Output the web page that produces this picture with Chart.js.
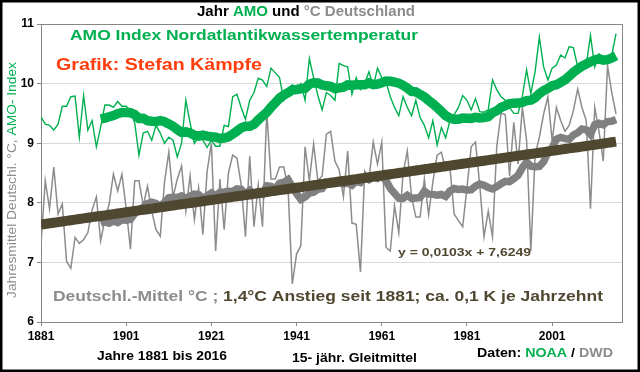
<!DOCTYPE html>
<html>
<head>
<meta charset="utf-8">
<script src="https://cdn.jsdelivr.net/npm/chart.js@4.4.0/dist/chart.umd.min.js"></script>
<style>
  html, body { margin: 0; padding: 0; background: #fff; }
  #wrap { width: 640px; height: 372px; position: relative; }
</style>
</head>
<body>
<div id="wrap"><canvas id="chart"></canvas></div>
<script>
// Jahre 1881..2016
const firstYear = 1881;
const lastYear = 2016;
const tickYears = [1881, 1901, 1921, 1941, 1961, 1981, 2001];
const yTicks = [6, 7, 8, 9, 10, 11];

// AMO Index (auf °C-Skala)
const amo = [
  9.44, 9.32, 9.30, 9.22, 9.32, 9.62, 9.62, 9.78, 9.79, 9.10,
  9.80, 9.22, 9.38, 8.94, 9.27, 9.64, 9.64, 9.60, 9.70, 9.62,
  9.62, 9.55, 9.34, 8.80, 9.17, 9.20, 9.05, 9.30, 9.17, 9.00,
  9.10, 9.05, 8.77, 9.00, 9.72, 9.34, 9.00, 9.10, 9.05, 8.93,
  9.05, 8.95, 8.95, 9.30, 9.28, 9.78, 9.82, 9.60, 9.40, 9.72,
  9.85, 10.09, 10.06, 9.95, 10.26, 10.18, 10.10, 9.72, 9.90, 9.98,
  9.90, 10.00, 9.72, 10.42, 10.10, 9.80, 9.56, 9.85, 9.80, 9.72,
  10.34, 10.30, 10.28, 9.82, 10.10, 9.90, 10.00, 10.20, 9.95, 10.26,
  10.10, 10.03, 9.78, 9.60, 9.46, 9.78, 9.60, 9.46, 9.72, 9.43,
  9.30, 9.09, 9.38, 8.97, 9.26, 9.09, 9.38, 9.48, 9.60, 9.80,
  9.72, 9.56, 9.75, 9.53, 9.52, 9.56, 10.06, 9.90, 9.78, 9.72,
  9.60, 9.50, 9.50, 9.78, 10.23, 9.83, 10.20, 10.78, 10.28, 10.06,
  10.26, 10.31, 10.48, 10.43, 10.62, 10.60, 10.28, 10.25, 10.31, 10.81,
  10.28, 10.50, 10.42, 10.40, 10.48, 10.84
];

// Jahresmittel Deutschland °C (DWD)
const germany = [
  7.31, 8.37, 7.90, 8.60, 7.81, 7.98, 7.02, 6.90, 7.42, 7.32,
  7.38, 7.50, 7.88, 8.10, 7.36, 7.72, 7.98, 8.48, 8.20, 8.48,
  7.90, 7.22, 8.37, 8.37, 7.95, 8.28, 7.86, 7.55, 7.44, 8.35,
  8.85, 8.10, 8.40, 8.62, 7.86, 8.45, 7.72, 8.25, 7.47, 8.53,
  9.00, 7.19, 8.40, 7.55, 8.50, 8.80, 8.75, 8.30, 7.43, 8.78,
  7.60, 8.30, 7.60, 9.54, 8.40, 8.40, 8.60, 8.60, 8.25, 6.64,
  7.14, 7.28, 8.94, 8.37, 8.99, 8.37, 8.45, 9.15, 9.20, 8.70,
  8.55, 8.10, 8.87, 7.66, 7.64, 6.84, 8.53, 8.40, 9.02, 8.65,
  9.02, 7.25, 7.19, 7.95, 7.50, 8.50, 8.87, 8.10, 7.76, 7.76,
  8.40, 7.80, 8.35, 8.80, 8.85, 8.55, 8.60, 7.81, 7.70, 7.60,
  8.25, 8.94, 9.02, 8.30, 7.43, 7.86, 7.43, 8.95, 9.50, 9.48,
  8.45, 9.35, 8.65, 9.60, 9.05, 7.19, 8.80, 9.10, 9.49, 9.78,
  9.04, 9.60, 9.38, 9.20, 9.30, 9.55, 9.91, 9.60, 9.38, 7.90,
  9.60, 9.20, 8.70, 10.30, 9.85, 9.49
];

// lineare Trendlinie aus der Grafik: y = 0,0103x + 7,6249 (x = 1..136)
const trendSlope = 0.0103;
const trendIntercept = 7.6249;
const smoothYears = 15;

const years = [];
for (let y = firstYear; y <= lastYear; y++) years.push(y);

function points(values) {
  return values.map((v, i) => ({ x: years[i], y: v }));
}

// 15-jähriges Gleitmittel (wie Excel: nachlaufend)
function movingAverage(values) {
  const out = [];
  for (let i = smoothYears - 1; i < values.length; i++) {
    let s = 0;
    for (let k = i - smoothYears + 1; k <= i; k++) s += values[k];
    out.push({ x: years[i], y: s / smoothYears });
  }
  return out;
}

const trend = years.map((yr, i) => ({ x: yr, y: trendSlope * (i + 1) + trendIntercept }));

const FONT = "'Liberation Sans', Arial, sans-serif";
const GREEN = '#00b050';
const GREY = '#8c8c8c';
const GREY_DARK = '#808080';
const OLIVE = '#4f4730';

function runsWidth(ctx, runs, font) {
  ctx.font = font;
  let w = 0;
  runs.forEach(r => { w += ctx.measureText(r[0]).width; });
  return w;
}

// Textzeile ab x, horizontal auf Zielbreite gestreckt (wie im Original)
function drawRuns(ctx, runs, x, y, font, width) {
  const w = runsWidth(ctx, runs, font);
  const sx = width ? width / w : 1;
  ctx.save();
  ctx.translate(x, y);
  ctx.scale(sx, 1);
  ctx.font = font;
  let cx = 0;
  runs.forEach(r => {
    ctx.fillStyle = r[1];
    ctx.fillText(r[0], cx, 0);
    cx += ctx.measureText(r[0]).width;
  });
  ctx.restore();
}

const overlay = {
  id: 'overlay',
  beforeDraw(chart) {
    const c = chart.ctx;
    c.save();
    c.fillStyle = '#fff';
    c.fillRect(0, 0, chart.width, chart.height);
    c.restore();
  },
  afterDraw(chart) {
    const c = chart.ctx;
    const a = chart.chartArea;
    c.save();
    // Rahmen oben/rechts der Zeichenfläche
    c.strokeStyle = '#868686';
    c.lineWidth = 1;
    c.beginPath();
    c.moveTo(a.left, a.top + 0.5);
    c.lineTo(a.right + 0.5, a.top + 0.5);
    c.lineTo(a.right + 0.5, a.bottom);
    c.stroke();

    c.textBaseline = 'middle';
    c.textAlign = 'left';

    drawRuns(c, [['Jahr ', '#000'], ['AMO', GREEN], [' und ', '#000'], ['°C Deutschland', GREY]],
      197, 12, 'bold 15px ' + FONT, 218);
    drawRuns(c, [['AMO Index Nordatlantikwassertemperatur', GREEN]], 70, 36, 'bold 15px ' + FONT, 348);
    drawRuns(c, [['Grafik: Stefan Kämpfe', '#ff3d0d']], 56, 65, 'bold 17px ' + FONT, 206);
    drawRuns(c, [['y = 0,0103x + 7,6249', OLIVE]], 398, 253, 'bold 11.5px ' + FONT, 133);
    drawRuns(c, [['Deutschl.-Mittel °C ; ', GREY], ['1,4°C Anstieg seit 1881; ca. 0,1 K je Jahrzehnt', OLIVE]],
      53, 297, 'bold 15px ' + FONT, 550);
    drawRuns(c, [['Jahre 1881 bis 2016', '#000']], 97, 357, 'bold 12px ' + FONT, 130);
    drawRuns(c, [['15- jähr. Gleitmittel', '#000']], 292, 359, 'bold 12px ' + FONT, 125);
    drawRuns(c, [['Daten: ', '#000'], ['NOAA', GREEN], [' / ', '#000'], ['DWD', GREY]],
      477, 354, 'bold 12.5px ' + FONT, 136);

    // Achsentitel links, gedreht
    c.translate(12, 180);
    c.rotate(-Math.PI / 2);
    drawRuns(c, [['Jahresmittel Deutschl. °C, ', GREY], ['AMO- Index', GREEN]], -118, 0, '13px ' + FONT, 236);
    c.restore();

    // äußerer schwarzer Rahmen
    c.save();
    c.strokeStyle = '#000';
    c.lineWidth = 2.5;
    c.strokeRect(1.25, 1.25, chart.width - 2.5, chart.height - 2.5);
    c.restore();
  }
};

const ctx = document.getElementById('chart').getContext('2d');
const myChart = new Chart(ctx, {
  type: 'line',
  data: {
    datasets: [
      {
        label: 'Trend',
        data: trend,
        borderColor: OLIVE,
        borderWidth: 10,
        pointRadius: 0,
        order: 0
      },
      {
        label: 'AMO Gleitmittel',
        data: movingAverage(amo),
        borderColor: GREEN,
        borderWidth: 9.5,
        pointRadius: 0,
        order: 1
      },
      {
        label: 'Deutschland Gleitmittel',
        data: movingAverage(germany),
        borderColor: GREY_DARK,
        borderWidth: 7.5,
        pointRadius: 0,
        order: 2
      },
      {
        label: 'AMO',
        data: points(amo),
        borderColor: GREEN,
        borderWidth: 1.4,
        pointRadius: 0,
        order: 3
      },
      {
        label: 'Deutschland',
        data: points(germany),
        borderColor: GREY,
        borderWidth: 1.5,
        pointRadius: 0,
        order: 4
      }
    ]
  },
  options: {
    responsive: true,
    maintainAspectRatio: false,
    animation: false,
    layout: { padding: { left: 0, right: 18, top: 24, bottom: 0 } },
    plugins: {
      legend: { display: false },
      tooltip: { enabled: false }
    },
    scales: {
      x: {
        type: 'linear',
        min: firstYear,
        max: 2017.4,
        afterBuildTicks: (scale) => { scale.ticks = tickYears.map(v => ({ value: v })); },
        afterFit: (scale) => { scale.height = 50; },
        grid: { drawOnChartArea: false, tickLength: 4, tickColor: '#868686' },
        border: { color: '#868686' },
        ticks: {
          padding: 3,
          maxRotation: 0,
          color: '#000',
          font: { family: FONT, size: 12, weight: 'bold' },
          callback: (v) => String(v)
        }
      },
      y: {
        min: 6,
        max: 11,
        afterBuildTicks: (scale) => { scale.ticks = yTicks.map(v => ({ value: v })); },
        afterFit: (scale) => { scale.width = 41; },
        grid: { color: '#d9d9d9', tickLength: 4, tickColor: '#868686' },
        border: { color: '#868686' },
        ticks: {
          padding: 3,
          color: '#000',
          font: { family: FONT, size: 12, weight: 'bold' }
        }
      }
    }
  },
  plugins: [overlay]
});
</script>
</body>
</html>
